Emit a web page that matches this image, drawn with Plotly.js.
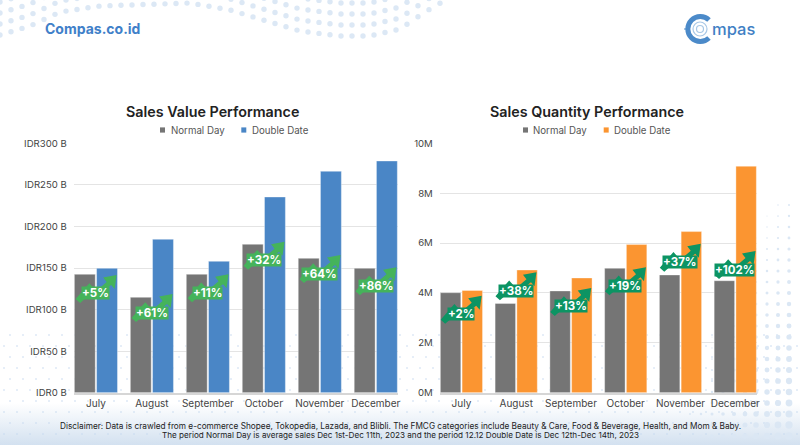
<!DOCTYPE html>
<html>
<head>
<meta charset="utf-8">
<title>Sales Performance</title>
<script src="https://cdn.plot.ly/plotly-3.0.1.min.js"></script>
<style>
    html, body { margin: 0; padding: 0; background: #fff; }
    #page { position: relative; width: 800px; height: 445px; overflow: hidden; }
    #backdrop, #chart { position: absolute; left: 0; top: 0; width: 800px; height: 445px; }
</style>
</head>
<body>
<div id="page">
    <svg id="backdrop" viewBox="0 0 800 445" xmlns="http://www.w3.org/2000/svg">
        <defs>
            <linearGradient id="fade" x1="0" y1="0" x2="0" y2="1">
                <stop offset="0" stop-color="#ffffff"/>
                <stop offset="1" stop-color="#d3e1f0"/>
            </linearGradient>
        </defs>
        <rect x="0" y="403" width="800" height="42" fill="url(#fade)"/>
        <g id="dots"></g>
        <!-- logo mark -->
        <circle cx="700" cy="29" r="7" fill="none" stroke="#a9c8e6" stroke-width="1.2"/>
        <circle cx="700" cy="29" r="3.5" fill="none" stroke="#a9c8e6" stroke-width="1.2"/>
        <path d="M709 20 A12.5 12.5 0 1 0 709 38" fill="none" stroke="#4b8ac9" stroke-width="5"/>
        <path d="M684 29 L688 29" stroke="#4b8ac9" stroke-width="1"/>
    </svg>
    <div id="chart"></div>
</div>
<script>
const months = ['July', 'August', 'September', 'October', 'November', 'December'];

// Sales value, IDR billions
const valueNormal = [142.4, 114.7, 142.4, 178.5, 161.6, 149.6];
const valueDouble = [149.6, 184.5, 158, 235.4, 266.3, 278.7];
const valueGrowth = ['+5%', '+61%', '+11%', '+32%', '+64%', '+86%'];
const valueArrowTip = [141.6, 118.7, 142.4, 181.7, 165.6, 150.8];
const valueTicks = [0, 50, 100, 150, 200, 250, 300];
const valueTickText = ['IDR0 B', 'IDR50 B', 'IDR100 B', 'IDR150 B', 'IDR200 B', 'IDR250 B', 'IDR300 B'];

// Sales quantity, millions
const qtyNormal = [4.01, 3.58, 4.08, 4.99, 4.72, 4.49];
const qtyDouble = [4.10, 4.92, 4.60, 5.94, 6.46, 9.08];
const qtyGrowth = ['+2%', '+38%', '+13%', '+19%', '+37%', '+102%'];
const qtyArrowTip = [3.89, 4.83, 4.20, 5.03, 5.97, 5.68];
const qtyTicks = [0, 2, 4, 6, 8, 10];
const qtyTickText = ['0M', '2M', '4M', '6M', '8M', '10M'];

const FONT = 'Inter, "Noto Sans", sans-serif';
const GREY = '#757575', BLUE = '#4a86c6', ORANGE = '#fb9531';
const GREEN_VALUE = '#45b35b', GREEN_QTY = '#0c9463';

// ----- background dots -----
function addDot(g, x, y, r, fill) {
    const c = document.createElementNS('http://www.w3.org/2000/svg', 'circle');
    c.setAttribute('cx', x); c.setAttribute('cy', y); c.setAttribute('r', r); c.setAttribute('fill', fill);
    g.appendChild(c);
}
const dotLayer = document.getElementById('dots');
const wave = [[0, 35], [30, 26], [60, 12], [100, 6], [190, 3], [230, 10], [270, 22], [300, 31], [340, 36], [370, 36], [400, 29], [425, 12], [442, 2]];
function waveY(x) {
    for (let i = 1; i < wave.length; i++) {
        if (x <= wave[i][0]) {
            const t = (x - wave[i - 1][0]) / (wave[i][0] - wave[i - 1][0]);
            return wave[i - 1][1] + t * (wave[i][1] - wave[i - 1][1]);
        }
    }
    return -20;
}
for (let x = 0; x <= 442; x += 11) {
    for (let k = 0; k < 4; k++) {
        const y = waveY(x) - k * 11;
        if (y > -3) addDot(dotLayer, x, y, 2.7, '#dce8f5');
    }
}
for (let y = 335; y < 445; y += 11) {
    for (let x = 4; x < 800; x += 13) {
        addDot(dotLayer, x + (y % 2) * 6, y, 0.8, '#c6d9ee');
    }
}
for (let y = 205; y < 445; y += 11) {
    for (let x = 690; x < 800; x += 11) {
        const r = ((x - 690) / 110 + (y - 205) / 240 - 0.55) * 2.9;
        if (r > 0.5) addDot(dotLayer, x, y, Math.min(r, 4), '#dbe7f4');
    }
}

// ----- chart -----
const bar = (name, x, y, color, xa, ya) => ({
    type: 'bar', name, x, y, xaxis: xa, yaxis: ya,
    marker: { color, line: { color: 'rgba(255,255,255,0.35)', width: 1 } },
    showlegend: false, hoverinfo: 'skip',
});
const traces = [
    bar('Normal Day', months, valueNormal, GREY, 'x', 'y'),
    bar('Double Date', months, valueDouble, BLUE, 'x', 'y'),
    bar('Normal Day', months, qtyNormal, GREY, 'x2', 'y2'),
    bar('Double Date', months, qtyDouble, ORANGE, 'x2', 'y2'),
];

const px = x => x / 800;
const py = y => 1 - y / 445;
const pageText = (text, x, y, size, color, anchor, weight) => ({
    xref: 'paper', yref: 'paper', x: px(x), y: py(y), text, showarrow: false,
    xanchor: anchor, yanchor: 'middle', borderpad: 0,
    font: { family: FONT, size, color, weight: weight || 400 },
});
const swatch = (x, y, color) => ({
    type: 'rect', xref: 'paper', yref: 'paper', x0: px(x), x1: px(x + 5), y0: py(y + 2.6), y1: py(y - 2.6),
    fillcolor: color, line: { width: 0 },
});

// zigzag growth arrow, in pixels from its tip
const ARROW = 'M0 0 L-13.5 -2.5 L-10 -7 L-17 -13 L-23 -13 L-27.3 -8.3 L-31.5 -13 L-41 -24 L-36.5 -28 L-32 -24 L-12 -24 L-12 -15 L-5.5 -10 L-2 -14 Z';
const growthArrows = (tips, green, xa, ya) => tips.map((tip, i) => ({
    type: 'path', xref: xa, yref: ya, layer: 'above',
    xsizemode: 'pixel', ysizemode: 'pixel', xanchor: i + 0.37, yanchor: tip,
    path: ARROW, fillcolor: green, line: { width: 0 },
}));
const growthLabels = (labels, tips, green, xa, ya) => labels.map((label, i) => ({
    xref: xa, yref: ya, x: i + 0.37, y: tips[i], text: `<b>${label}</b>`, showarrow: false,
    xshift: -20.7, yshift: -18.5, bgcolor: green, borderpad: 0, height: 12,
    font: { family: FONT, size: 11.5, color: '#fff' },
}));

const yTickFont = { family: FONT, size: 9.6, color: '#444' };
const xTickFont = { family: FONT, size: 10, color: '#444' };
const xAxis = (left, right, anchor) => ({
    domain: [px(left), px(right)], anchor, type: 'category', range: [-0.397, 5.397],
    showgrid: false, showline: true, linecolor: '#d6d6d6', linewidth: 2, ticks: '', tickfont: xTickFont, fixedrange: true,
});
const yAxis = (anchor, max, ticks, text) => ({
    domain: [py(392.7), py(143.3)], anchor, range: [0, max], tickmode: 'array', tickvals: ticks, ticktext: text,
    gridcolor: '#e4e4e4', gridwidth: 1, zeroline: false, ticks: 'outside', ticklen: 4, tickcolor: 'rgba(0,0,0,0)',
    tickfont: yTickFont, fixedrange: true,
});

const layout = {
    width: 800, height: 445, margin: { l: 0, r: 0, t: 0, b: 0 },
    paper_bgcolor: 'rgba(0,0,0,0)', plot_bgcolor: 'rgba(0,0,0,0)',
    barmode: 'group', bargap: 0.206, bargroupgap: 0.06, showlegend: false,
    xaxis: xAxis(73.7, 398, 'y'),
    yaxis: yAxis('x', 300, valueTicks, valueTickText),
    xaxis2: xAxis(439.7, 757, 'y2'),
    yaxis2: yAxis('x2', 10, qtyTicks, qtyTickText),
    shapes: [
        swatch(160, 130, GREY),
        swatch(241.3, 130, BLUE),
        swatch(523, 130, GREY),
        swatch(603.7, 130, ORANGE),
        ...growthArrows(valueArrowTip, GREEN_VALUE, 'x', 'y'),
        ...growthArrows(qtyArrowTip, GREEN_QTY, 'x2', 'y2'),
    ],
    annotations: [
        pageText('Compas.co.id', 44, 29, 14, '#3f80c9', 'left', 700),
        pageText('mpas', 711, 29, 16.5, '#3f80c4', 'left', 500),
        pageText('Sales Value Performance', 212.5, 111.7, 14.3, '#222', 'center', 600),
        pageText('Sales Quantity Performance', 587, 111.7, 14.3, '#222', 'center', 600),
        pageText('Normal Day', 170, 130, 9.7, '#555', 'left'),
        pageText('Double Date', 251, 130, 9.7, '#555', 'left'),
        pageText('Normal Day', 532.3, 130, 9.7, '#555', 'left'),
        pageText('Double Date', 613.3, 130, 9.7, '#555', 'left'),
        ...growthLabels(valueGrowth, valueArrowTip, GREEN_VALUE, 'x', 'y'),
        ...growthLabels(qtyGrowth, qtyArrowTip, GREEN_QTY, 'x2', 'y2'),
        pageText('Disclaimer: Data is crawled from e-commerce Shopee, Tokopedia, Lazada, and Blibli. The FMCG categories include Beauty &amp; Care, Food &amp; Beverage, Health, and Mom &amp; Baby.', 400, 426, 8.25, '#222', 'center'),
        pageText('The period Normal Day is average sales Dec 1st-Dec 11th, 2023 and the period 12.12 Double Date is Dec 12th-Dec 14th, 2023', 400, 434.7, 8.15, '#222', 'center'),
    ],
};

Plotly.newPlot('chart', traces, layout, { displayModeBar: false, staticPlot: true });
</script>
</body>
</html>
